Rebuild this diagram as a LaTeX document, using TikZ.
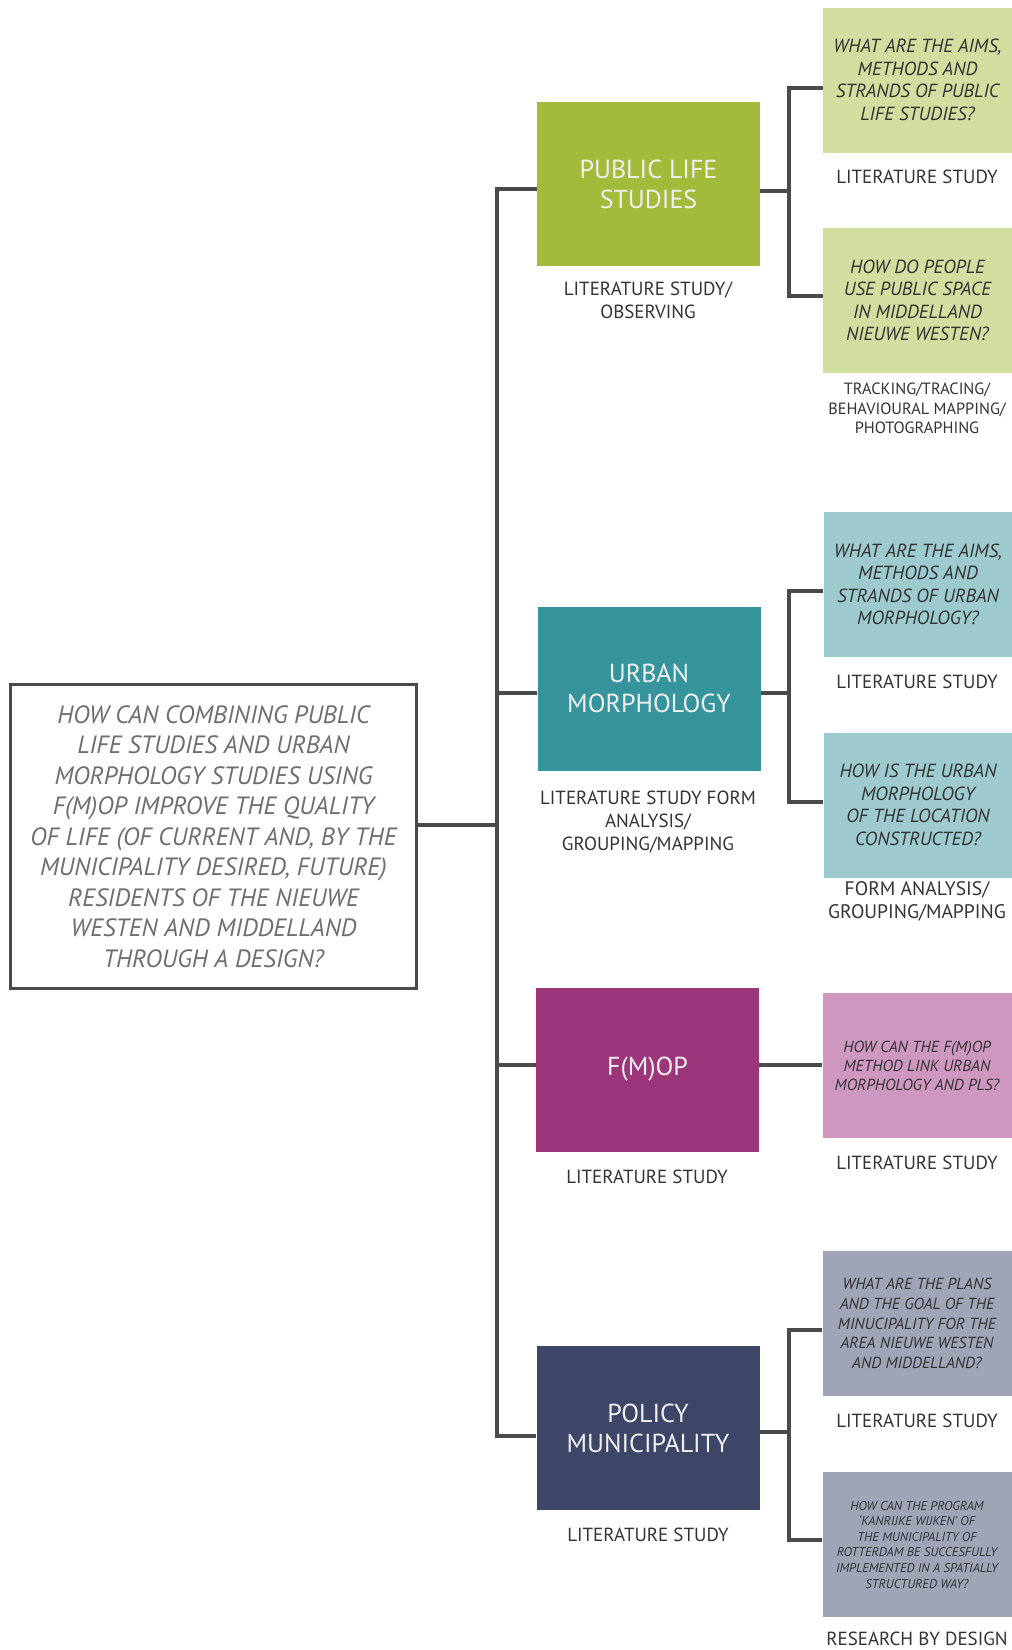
\documentclass[tikz,border=0pt]{standalone}
\usepackage{fontspec}
\setmainfont{PT Sans}
\usetikzlibrary{calc}

\definecolor{linegray}{HTML}{4A4A4A}
\definecolor{maintext}{HTML}{6E6E6E}
\definecolor{darktext}{HTML}{333333}
\definecolor{plsdark}{HTML}{A3BB3A}
\definecolor{plslight}{HTML}{D1DE9F}
\definecolor{umdark}{HTML}{36959C}
\definecolor{umlight}{HTML}{9DCACE}
\definecolor{fmdark}{HTML}{9C3579}
\definecolor{fmlight}{HTML}{CD97BF}
\definecolor{poldark}{HTML}{3E4668}
\definecolor{pollight}{HTML}{9FA4B6}

\tikzset{
  conn/.style={draw=linegray, line width=4pt},
  topic/.style={rectangle, inner sep=0pt, minimum width=223pt, minimum height=164pt,
    text=white!94!black, align=center, font=\fontsize{26}{30}\selectfont},
  question/.style={rectangle, inner sep=0pt, minimum width=189pt, minimum height=145pt,
    text=darktext, align=center, font=\fontsize{19}{22.5}\selectfont\itshape},
  method/.style={text=darktext, align=center, inner sep=0pt, font=\fontsize{19}{23}\selectfont},
}

\begin{document}
\begin{tikzpicture}[x=1pt, y=-1pt]
  \useasboundingbox (0,0) rectangle (1012,1650);

  % central research question
  \node[draw=linegray, line width=3.8pt, minimum width=406pt, minimum height=304pt, inner sep=0pt,
        text=maintext, align=center, font=\fontsize{25}{30.5}\selectfont\itshape]
    (main) at (213.5,836.5) {HOW CAN COMBINING PUBLIC\\LIFE STUDIES AND URBAN\\MORPHOLOGY STUDIES USING\\F(M)OP IMPROVE THE QUALITY\\OF LIFE (OF CURRENT AND, BY THE\\MUNICIPALITY DESIRED, FUTURE)\\RESIDENTS OF THE NIEUWE\\WESTEN AND MIDDELLAND\\THROUGH A DESIGN?};

  % topic boxes
  \node[topic, fill=plsdark] (pls) at (648.5,184) {PUBLIC LIFE\\STUDIES};
  \node[topic, fill=umdark]  (um)  at (649,688.5) {URBAN\\MORPHOLOGY};
  \node[topic, fill=fmdark]  (fm)  at (647.5,1069.5) {F(M)OP};
  \node[topic, fill=poldark] (pol) at (648,1428) {POLICY\\MUNICIPALITY};

  % sub-questions
  \node[question, fill=plslight] (q1) at (917.5,80) {WHAT ARE THE AIMS,\\METHODS AND\\STRANDS OF PUBLIC\\LIFE STUDIES?};
  \node[question, fill=plslight] (q2) at (917.5,300.5) {HOW DO PEOPLE\\USE PUBLIC SPACE\\IN MIDDELLAND\\NIEUWE WESTEN?};
  \node[question, fill=umlight] (q3) at (918,584.5) {WHAT ARE THE AIMS,\\METHODS AND\\STRANDS OF URBAN\\MORPHOLOGY?};
  \node[question, fill=umlight] (q4) at (918,805) {HOW IS THE URBAN\\MORPHOLOGY\\OF THE LOCATION\\CONSTRUCTED?};
  \node[question, fill=fmlight, font=\fontsize{16}{19}\selectfont\itshape] (q5) at (917,1065.5) {HOW CAN THE F(M)OP\\METHOD LINK URBAN\\MORPHOLOGY AND PLS?};
  \node[question, fill=pollight, font=\fontsize{16}{19.7}\selectfont\itshape] (q6) at (917,1323.5) {WHAT ARE THE PLANS\\AND THE GOAL OF THE\\MINUCIPALITY FOR THE\\AREA NIEUWE WESTEN\\AND MIDDELLAND?};
  \node[question, fill=pollight, font=\fontsize{12.8}{15.6}\selectfont\itshape] (q7) at (917,1544.5) {HOW CAN THE PROGRAM\\`KANRIJKE WIJKEN' OF\\THE MUNICIPALITY OF\\ROTTERDAM BE SUCCESFULLY\\IMPLEMENTED IN A SPATIALLY\\STRUCTURED WAY?};

  % methods under the topic boxes
  \node[method] (mpls) at (648,300.5) {LITERATURE STUDY/\\OBSERVING};
  \node[method] (mum)  at (648,822.5) {LITERATURE STUDY FORM\\ANALYSIS/\\GROUPING/MAPPING};
  \node[method] (mfm)  at (647,1177) {LITERATURE STUDY};
  \node[method] (mpol) at (648,1535) {LITERATURE STUDY};

  % methods under the sub-questions
  \node[method] (mq1) at (917,177) {LITERATURE STUDY};
  \node[method, font=\fontsize{16.3}{19.5}\selectfont] (mq2) at (917,408.5) {TRACKING/TRACING/\\BEHAVIOURAL MAPPING/\\PHOTOGRAPHING};
  \node[method] (mq3) at (917,682) {LITERATURE STUDY};
  \node[method, font=\fontsize{19.6}{23}\selectfont] (mq4) at (917,901.5) {FORM ANALYSIS/\\GROUPING/MAPPING};
  \node[method] (mq5) at (917,1163) {LITERATURE STUDY};
  \node[method] (mq6) at (917,1421) {LITERATURE STUDY};
  \node[method] (mq7) at (917,1639) {RESEARCH BY DESIGN};

  % spine joining the central question to the topics
  \coordinate (jm) at (497,825);
  \coordinate (s1) at (497,189);
  \coordinate (s2) at (497,693);
  \coordinate (s3) at (497,1065);
  \coordinate (s4) at (497,1436);
  \draw[conn] (main.east |- jm) -- (jm);
  \draw[conn] (pls.west |- s1) -- (s1) -- (s4) -- (pol.west |- s4);
  \draw[conn] (s2) -- (um.west |- s2);
  \draw[conn] (s3) -- (fm.west |- s3);

  % brackets from the topics to their sub-questions
  \coordinate (b1) at (789,191);  \coordinate (b1t) at (789,88);   \coordinate (b1b) at (789,296);
  \coordinate (b2) at (789,693);  \coordinate (b2t) at (789,591);  \coordinate (b2b) at (789,802);
  \coordinate (b3) at (789,1065);
  \coordinate (b4) at (789,1432); \coordinate (b4t) at (789,1330); \coordinate (b4b) at (789,1540);
  \draw[conn] (pls.east |- b1) -- (b1);
  \draw[conn] (q1.west |- b1t) -- (b1t) -- (b1b) -- (q2.west |- b1b);
  \draw[conn] (um.east |- b2) -- (b2);
  \draw[conn] (q3.west |- b2t) -- (b2t) -- (b2b) -- (q4.west |- b2b);
  \draw[conn] (fm.east |- b3) -- (q5.west |- b3);
  \draw[conn] (pol.east |- b4) -- (b4);
  \draw[conn] (q6.west |- b4t) -- (b4t) -- (b4b) -- (q7.west |- b4b);
\end{tikzpicture}
\end{document}
